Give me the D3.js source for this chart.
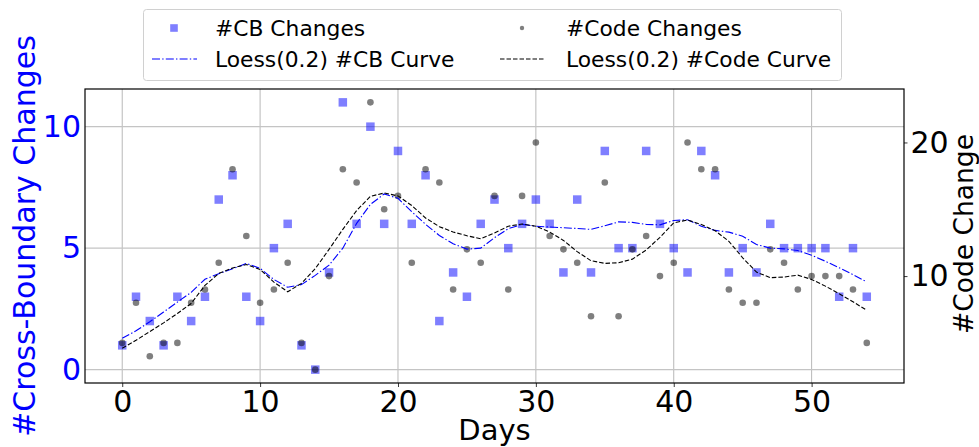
<!DOCTYPE html>
<html>
<head>
<meta charset="utf-8">
<script src="https://cdn.jsdelivr.net/npm/d3@7"></script>
<style>
  body { margin: 0; background: #fff; }
  svg { display: block; font-family: "DejaVu Sans", sans-serif; }
</style>
</head>
<body>
<svg id="Vis" width="979" height="447"></svg>
<script>
/*
* DATA
*/

const days = d3.range(0, 55);

// #CB changes per day (left axis)
const cbChanges = [1, 3, 2, 1, 3, 2, 3, 7, 8, 3, 2, 5, 6, 1, 0, 4, 11, 6, 10, 6,
  9, 6, 8, 2, 4, 3, 6, 7, 5, 6, 7, 6, 4, 7, 4, 9, 5, 5, 9, 6,
  5, 4, 9, 8, 4, 5, 4, 6, 5, 5, 5, 5, 3, 5, 3];

// #Code changes per day (right axis)
const codeChanges = [5, 8, 4, 5, 5, 8, 9, 11, 18, 13, 8, 9, 11, 5, 3, 10, 18, 17, 23, 15,
  16, 11, 18, 17, 9, 12, 11, 16, 9, 16, 20, 13, 12, 11, 7, 17, 7, 12, 13, 10,
  11, 20, 18, 18, 9, 8, 8, 12, 11, 9, 10, 10, 10, 9, 5];

// Loess(0.2) curves
const cbCurve = [1.29, 1.6, 1.97, 2.37, 2.78, 3.18, 3.72, 3.95, 4.15, 4.37,
  4.17, 3.71, 3.39, 3.5, 3.88, 4.3, 5.0, 6.02, 6.8, 7.23,
  7.05, 6.5, 5.98, 5.52, 5.18, 4.96, 5.0, 5.43, 5.8, 5.98,
  5.9, 5.87, 5.84, 5.81, 5.77, 5.92, 6.08, 6.06, 5.98, 5.96,
  6.14, 6.17, 5.9, 5.73, 5.66, 5.49, 5.15, 5.0, 4.97, 4.9,
  4.71, 4.46, 4.19, 3.91, 3.61];

const codeCurve = [4.6, 5.2, 5.85, 6.5, 7.2, 7.95, 9.3, 10.2, 10.6, 10.87,
  10.5, 9.55, 8.83, 9.45, 10.56, 12.0, 13.5, 14.9, 15.97, 16.22,
  16.0, 15.28, 14.35, 13.7, 13.3, 13.02, 12.79, 13.23, 13.73, 13.9,
  13.73, 13.3, 12.67, 11.83, 11.15, 10.95, 11.0, 11.27, 11.95, 12.9,
  13.98, 14.2, 13.86, 13.4, 12.6, 11.37, 10.3, 9.88, 9.93, 10.07,
  9.75, 9.25, 8.68, 8.08, 7.44];

const xTicks = [0, 10, 20, 30, 40, 50];
const leftTicks = [0, 5, 10];
const rightTicks = [10, 20];

const legendItems = [
  { label: "#CB Changes", kind: "square" },
  { label: "#Code Changes", kind: "circle" },
  { label: "Loess(0.2) #CB Curve", kind: "cbline" },
  { label: "Loess(0.2) #Code Curve", kind: "codeline" }
];

/*
* SETUP
*/

const svg = d3.select("svg#Vis");
const plot = { left: 85, right: 904, top: 89, bottom: 383 };

const x = d3.scaleLinear().domain([-2.7, 56.7]).range([plot.left, plot.right]);
const yLeft = d3.scaleLinear().domain([-0.55, 11.55]).range([plot.bottom, plot.top]);
const yRight = d3.scaleLinear().domain([2, 24]).range([plot.bottom, plot.top]);

const g = {
  grid: svg.append("g").attr("id", "grid"),
  marks: svg.append("g").attr("id", "marks"),
  axes: svg.append("g").attr("id", "axes"),
  legend: svg.append("g").attr("id", "legend")
};

/* Grid */
g.grid.selectAll("line.vgrid")
  .data(xTicks)
  .join("line")
    .attr("class", "vgrid")
    .attr("x1", d => x(d)).attr("x2", d => x(d))
    .attr("y1", plot.top).attr("y2", plot.bottom)
    .attr("stroke", "#b0b0b0")
    .attr("stroke-width", 0.9);

g.grid.selectAll("line.hgrid")
  .data(leftTicks)
  .join("line")
    .attr("class", "hgrid")
    .attr("x1", plot.left).attr("x2", plot.right)
    .attr("y1", d => yLeft(d)).attr("y2", d => yLeft(d))
    .attr("stroke", "#c4c4c4")
    .attr("stroke-width", 1.2);

/*
* MARKS
*/

const sq = 8.5;
g.marks.selectAll("rect.cb")
  .data(days)
  .join("rect")
    .attr("class", "cb")
    .attr("x", d => x(d) - sq / 2)
    .attr("y", d => yLeft(cbChanges[d]) - sq / 2)
    .attr("width", sq)
    .attr("height", sq)
    .attr("fill", "blue")
    .attr("fill-opacity", 0.5);

g.marks.selectAll("circle.code")
  .data(days)
  .join("circle")
    .attr("class", "code")
    .attr("cx", d => x(d))
    .attr("cy", d => yRight(codeChanges[d]))
    .attr("r", 3.3)
    .attr("fill", "black")
    .attr("fill-opacity", 0.5);

const cbLine = d3.line().x(d => x(d)).y(d => yLeft(cbCurve[d]));
const codeLine = d3.line().x(d => x(d)).y(d => yRight(codeCurve[d]));

g.marks.append("path")
  .datum(days)
  .attr("d", cbLine)
  .attr("fill", "none")
  .attr("stroke", "blue")
  .attr("stroke-width", 1.1)
  .attr("stroke-dasharray", "8,2.2,1.4,2.2");

g.marks.append("path")
  .datum(days)
  .attr("d", codeLine)
  .attr("fill", "none")
  .attr("stroke", "black")
  .attr("stroke-width", 1.1)
  .attr("stroke-dasharray", "4.5,2");

/*
* AXES
*/

const xAxis = g.axes.append("g")
  .attr("transform", "translate(0," + plot.bottom + ")")
  .call(d3.axisBottom(x).tickValues(xTicks).tickSize(4).tickPadding(3.5).tickSizeOuter(0));

const leftAxis = g.axes.append("g")
  .attr("transform", "translate(" + plot.left + ",0)")
  .call(d3.axisLeft(yLeft).tickValues(leftTicks).tickSize(0).tickPadding(4).tickSizeOuter(0));

const rightAxis = g.axes.append("g")
  .attr("transform", "translate(" + plot.right + ",0)")
  .call(d3.axisRight(yRight).tickValues(rightTicks).tickSize(3.5).tickPadding(3).tickSizeOuter(0));

g.axes.selectAll(".domain").remove();
g.axes.selectAll(".tick text")
  .attr("font-family", "DejaVu Sans")
  .attr("font-size", 30);
g.axes.selectAll(".tick line").attr("stroke", "#222").attr("stroke-width", 0.9);
leftAxis.selectAll(".tick text").attr("fill", "blue");
xAxis.selectAll(".tick text").attr("fill", "black");
rightAxis.selectAll(".tick text").attr("fill", "black");

/* Frame */
g.axes.append("rect")
  .attr("x", plot.left).attr("y", plot.top)
  .attr("width", plot.right - plot.left)
  .attr("height", plot.bottom - plot.top)
  .attr("fill", "none")
  .attr("stroke", "black")
  .attr("stroke-width", 1.2);

/* Axis labels */
svg.append("text")
  .attr("x", (plot.left + plot.right) / 2)
  .attr("y", 440)
  .attr("text-anchor", "middle")
  .attr("font-size", 29)
  .text("Days");

svg.append("text")
  .attr("transform", translate(35, 236) + " rotate(-90)")
  .attr("text-anchor", "middle")
  .attr("font-size", 30)
  .attr("fill", "blue")
  .text("#Cross-Boundary Changes");

svg.append("text")
  .attr("transform", translate(973, 234) + " rotate(-90)")
  .attr("text-anchor", "middle")
  .attr("font-size", 26.5)
  .attr("fill", "black")
  .text("#Code Change");

/*
* LEGEND
*/

g.legend.append("rect")
  .attr("x", 143.5).attr("y", 9.5)
  .attr("width", 698).attr("height", 71)
  .attr("rx", 3)
  .attr("fill", "white")
  .attr("stroke", "#d0d0d0")
  .attr("stroke-width", 1);

const cols = [174, 522];
const rows = [28, 59];
const textX = [215, 566];

const items = g.legend.selectAll("g.item")
  .data(legendItems)
  .join("g")
    .attr("class", "item")
    .attr("transform", (d, i) => translate(cols[i % 2], rows[Math.floor(i / 2)]));

items.each(function(d) {
  const item = d3.select(this);
  if (d.kind === "square") {
    item.append("rect")
      .attr("x", -3.8).attr("y", -3.8).attr("width", 7.6).attr("height", 7.6)
      .attr("fill", "blue").attr("fill-opacity", 0.5);
  } else if (d.kind === "circle") {
    item.append("circle").attr("r", 2.2).attr("fill", "black").attr("fill-opacity", 0.5);
  } else {
    item.append("line")
      .attr("x1", -22).attr("x2", 23)
      .attr("stroke", d.kind === "cbline" ? "blue" : "black")
      .attr("stroke-width", 1.1)
      .attr("stroke-dasharray", d.kind === "cbline" ? "8,2.2,1.4,2.2" : "4.5,2");
  }
});

items.append("text")
  .attr("x", (d, i) => textX[i % 2] - cols[i % 2])
  .attr("y", 7.7)
  .attr("font-size", 21.8)
  .text(d => d.label);

/*
* HELPER FUNCTIONS
*/

function translate(x, y) {
  return 'translate(' + String(x) + ',' + String(y) + ')';
}
</script>
</body>
</html>
